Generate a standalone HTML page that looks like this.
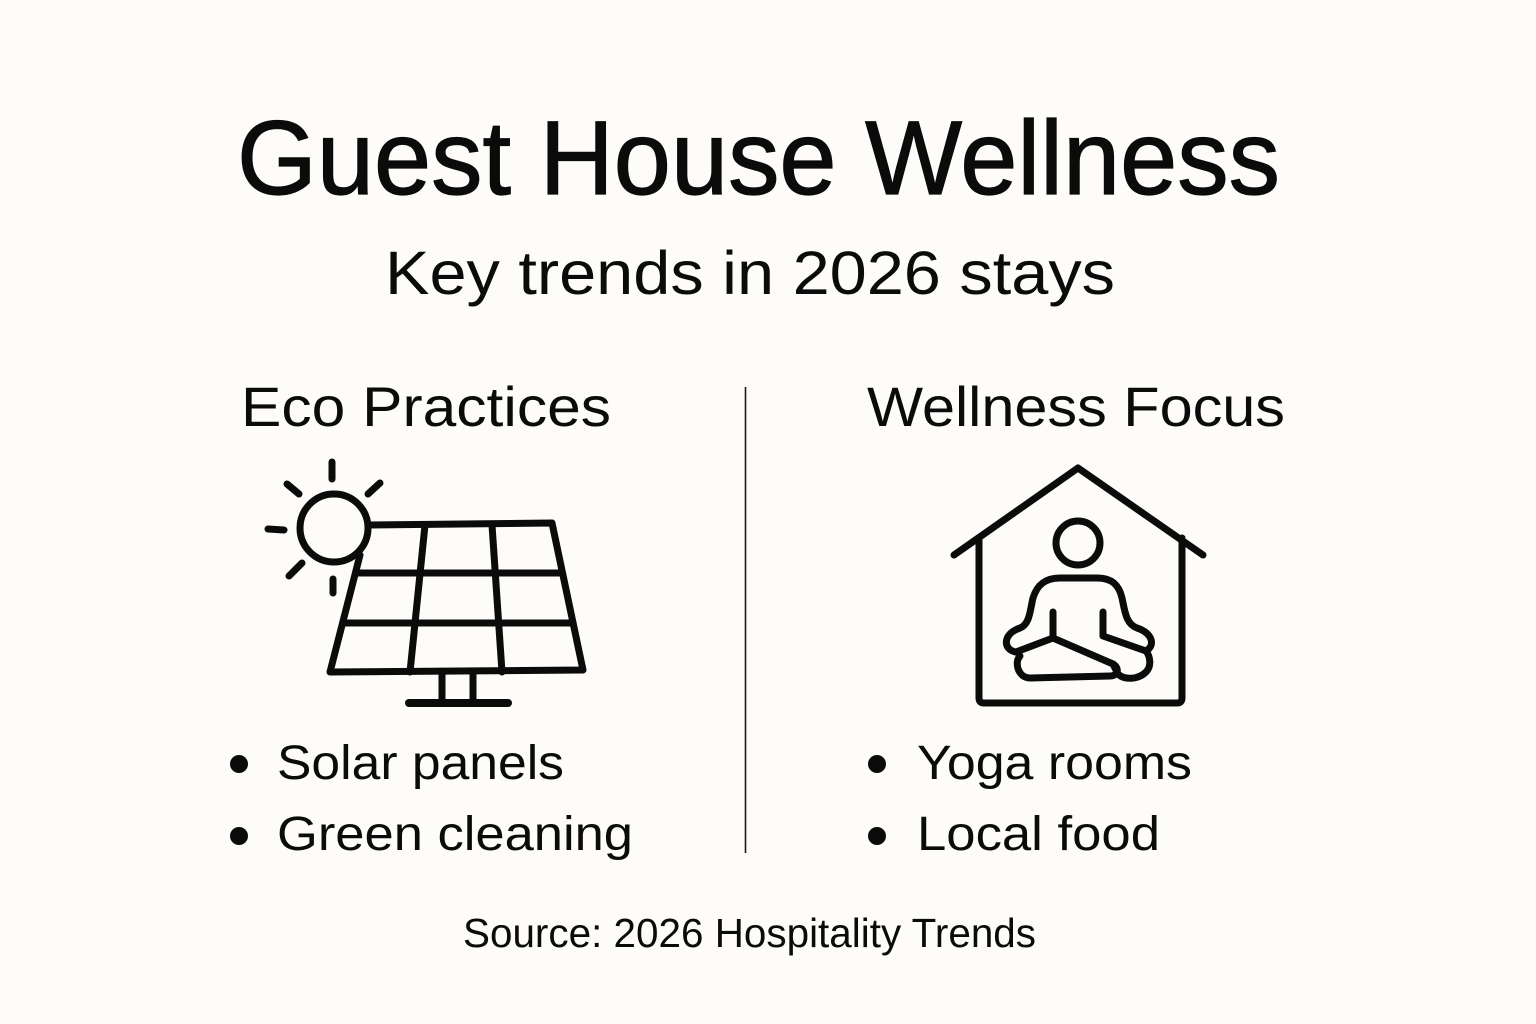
<!DOCTYPE html>
<html>
<head>
<meta charset="utf-8">
<style>
  html, body { margin:0; padding:0; background:#fdfcf8; }
  body { width:1536px; height:1024px; overflow:hidden; }
  svg { display:block; }
  text { font-family: "Liberation Sans", Arial, sans-serif; fill:#0b0b0b; }
</style>
</head>
<body>
<svg width="1536" height="1024" viewBox="0 0 1536 1024" xmlns="http://www.w3.org/2000/svg">
  <rect width="1536" height="1024" fill="#fdfcf8"/>

  <!-- Title -->
  <text x="237" y="194" font-size="105" textLength="1043" lengthAdjust="spacingAndGlyphs" stroke="#0b0b0b" stroke-width="1.2">Guest House Wellness</text>
  <text x="385" y="294" font-size="61" textLength="730" lengthAdjust="spacingAndGlyphs">Key trends in 2026 stays</text>

  <!-- Column headings -->
  <text x="241" y="426" font-size="56" textLength="370" lengthAdjust="spacingAndGlyphs">Eco Practices</text>
  <text x="867" y="426" font-size="56" textLength="418" lengthAdjust="spacingAndGlyphs">Wellness Focus</text>

  <!-- Divider -->
  <line x1="745.5" y1="387" x2="745.5" y2="853" stroke="#1a1a1a" stroke-width="1.6"/>

  <!-- Solar panel icon -->
  <g fill="none" stroke="#0b0b0b" stroke-width="7" stroke-linecap="round" stroke-linejoin="round">
    <circle cx="334" cy="528" r="34"/>
    <line x1="332" y1="462" x2="332" y2="479"/>
    <line x1="287" y1="484" x2="299" y2="494"/>
    <line x1="380" y1="483" x2="368" y2="494"/>
    <line x1="268" y1="529" x2="284" y2="530"/>
    <line x1="302" y1="563" x2="289" y2="576"/>
    <line x1="333" y1="579" x2="333" y2="593"/>
    <path d="M368,525 L552,523 L583,670 L330,672 L360,555"/>
    <line x1="356" y1="573" x2="562" y2="573"/>
    <line x1="343" y1="623" x2="573" y2="623"/>
    <line x1="425" y1="525" x2="410" y2="672"/>
    <line x1="492" y1="525" x2="502" y2="672"/>
    <line x1="442" y1="673" x2="442" y2="700"/>
    <line x1="473" y1="673" x2="473" y2="700"/>
  </g>
  <line x1="409" y1="703" x2="508" y2="703" stroke="#0b0b0b" stroke-width="8" stroke-linecap="round"/>

  <!-- Yoga house icon -->
  <g fill="none" stroke="#0b0b0b" stroke-width="7" stroke-linecap="round" stroke-linejoin="round">
    <polyline points="954,555 1078,468 1203,555"/>
    <path d="M979,538 L979,698 Q979,703 984,703 L1177,703 Q1182,703 1182,698 L1182,538"/>
    <circle cx="1078" cy="543" r="22"/>
    <path d="M1016,652 C1003,650 1002,634 1020,628 C1030,624 1030,610 1033,598 C1037,585 1045,578 1060,578 L1097,578 C1112,578 1119,585 1122,598 C1125,612 1126,624 1137,628 C1152,633 1156,645 1146,651"/>
    <path d="M1053,612 L1053,638 L1016,652"/>
    <path d="M1103,612 L1103,636 L1146,651"/>
    <path d="M1053,638 L1113,664 C1120,668 1118,676 1110,676 L1030,678 C1018,678 1014,662 1020,656"/>
    <path d="M1113,664 L1118,674 C1124,680 1138,680 1146,672 C1152,666 1150,656 1146,651"/>
  </g>

  <!-- Bullets left -->
  <circle cx="239" cy="764" r="9" fill="#0b0b0b"/>
  <circle cx="239" cy="836" r="9" fill="#0b0b0b"/>
  <text x="277" y="779" font-size="48" textLength="287" lengthAdjust="spacingAndGlyphs">Solar panels</text>
  <text x="277" y="850" font-size="48" textLength="356" lengthAdjust="spacingAndGlyphs">Green cleaning</text>

  <!-- Bullets right -->
  <circle cx="877" cy="764" r="9" fill="#0b0b0b"/>
  <circle cx="877" cy="836" r="9" fill="#0b0b0b"/>
  <text x="917" y="779" font-size="48" textLength="275" lengthAdjust="spacingAndGlyphs">Yoga rooms</text>
  <text x="917" y="850" font-size="48" textLength="243" lengthAdjust="spacingAndGlyphs">Local food</text>

  <!-- Source -->
  <text x="463" y="947" font-size="41" textLength="573" lengthAdjust="spacingAndGlyphs">Source: 2026 Hospitality Trends</text>
</svg>
</body>
</html>
